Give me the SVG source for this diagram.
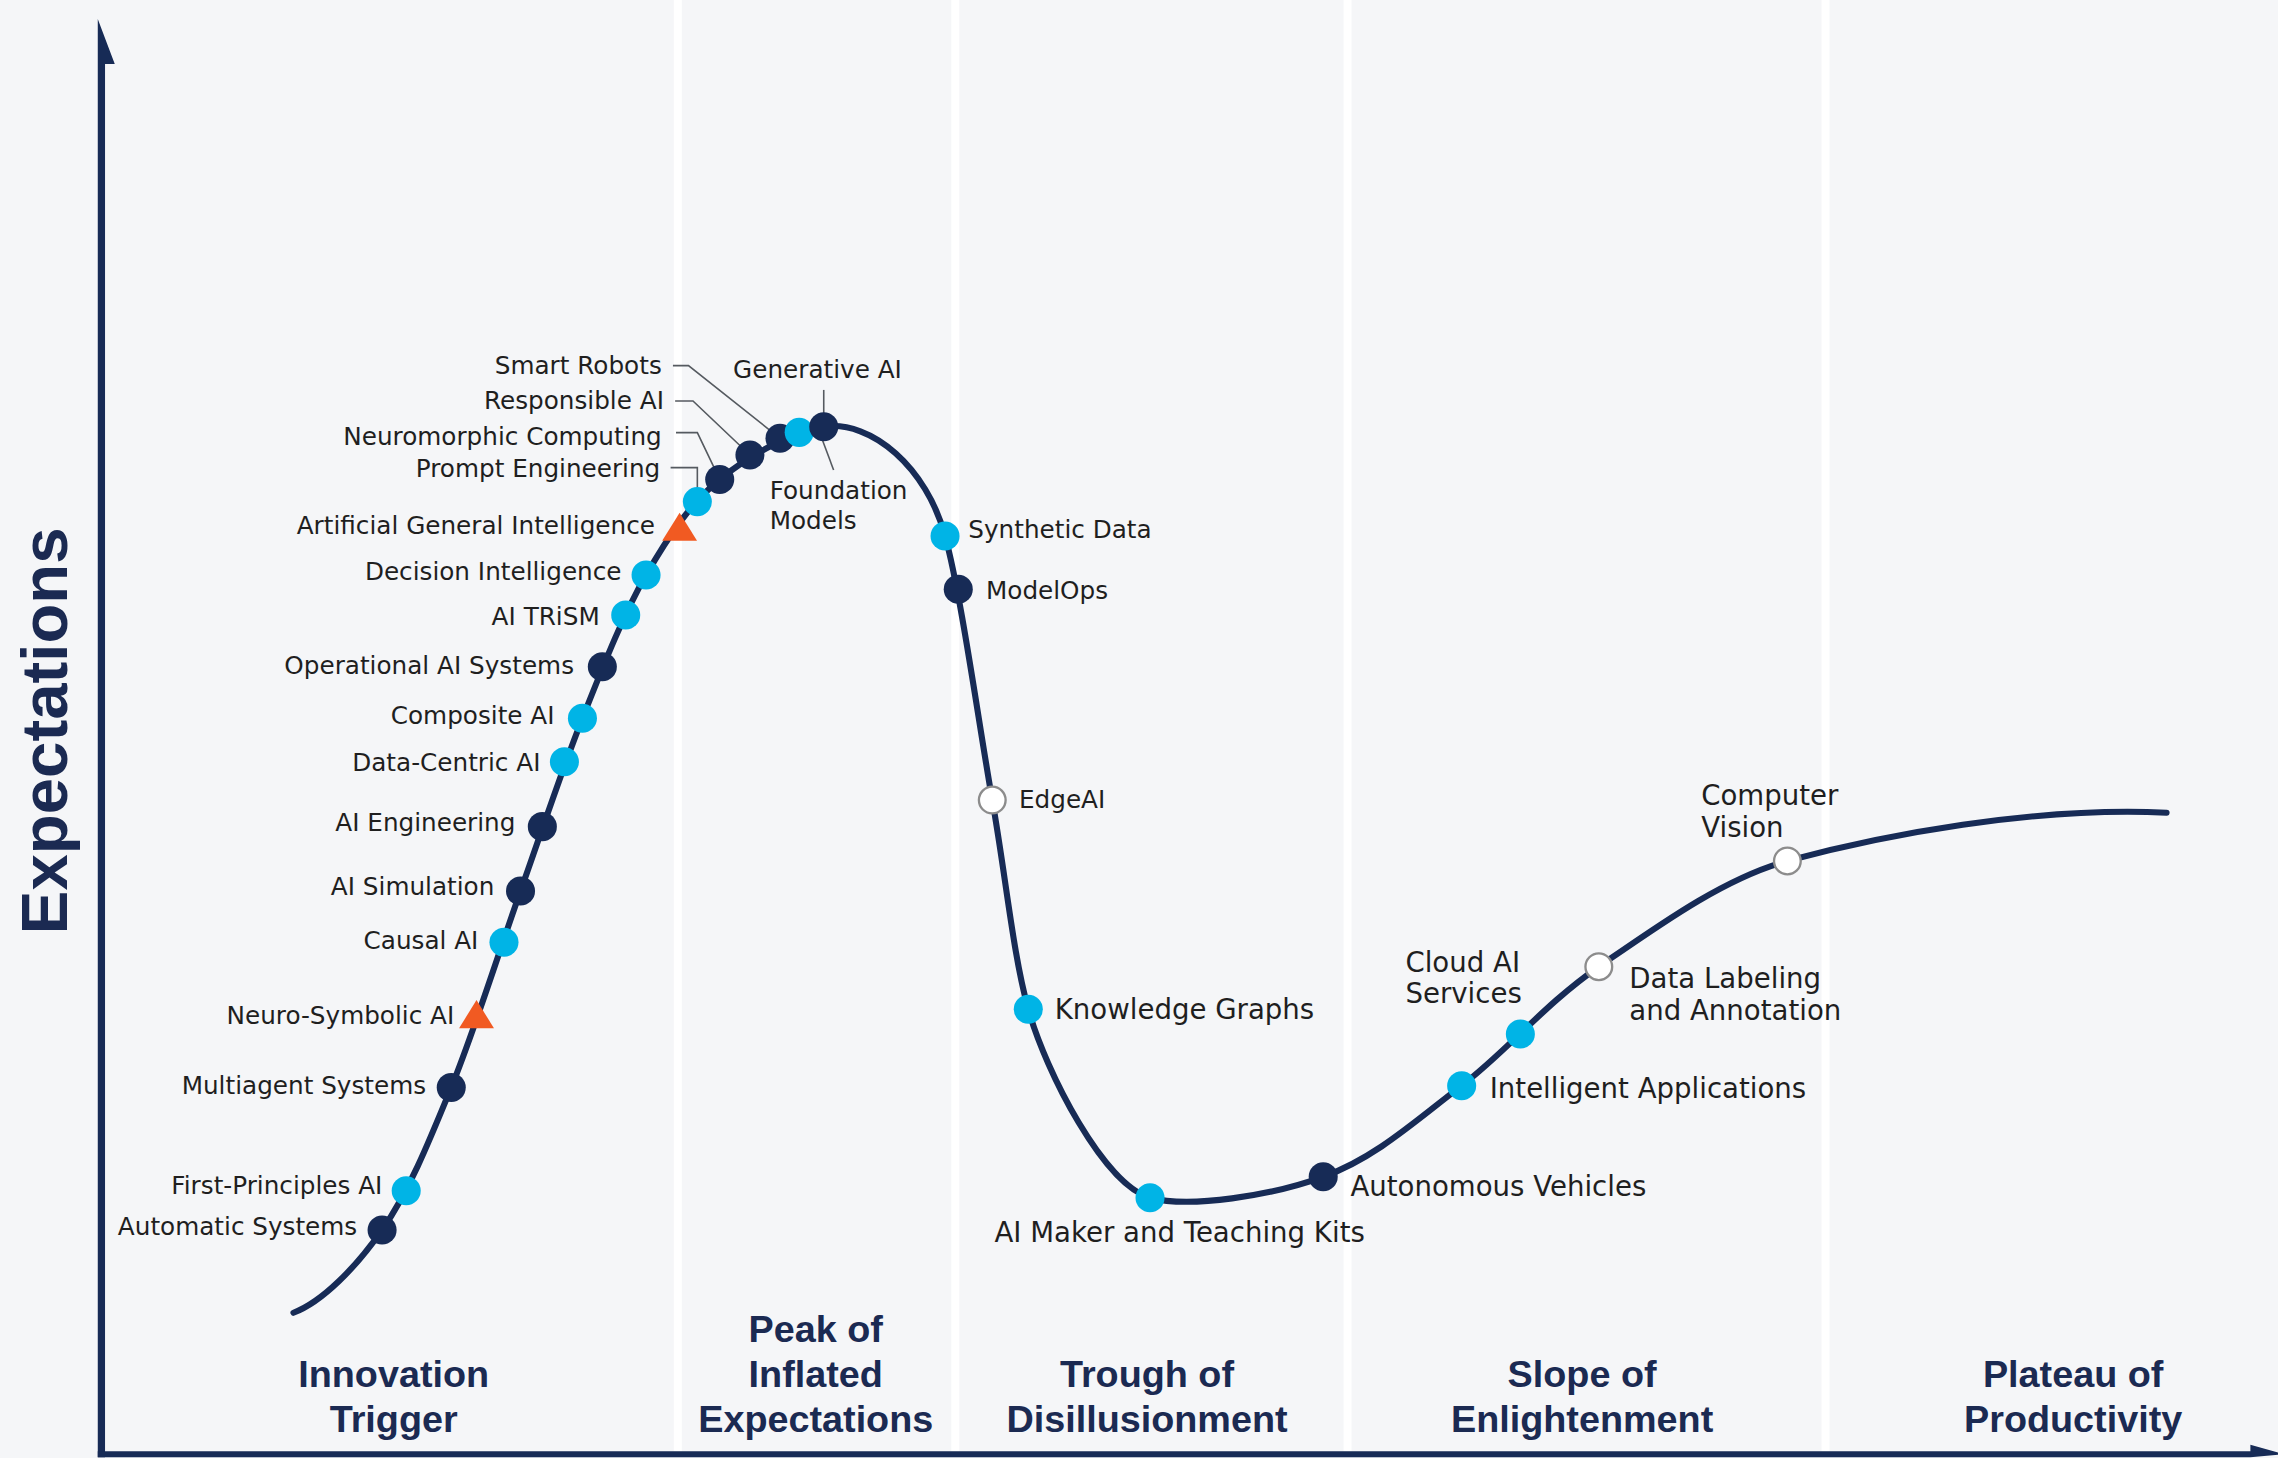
<svg xmlns="http://www.w3.org/2000/svg" width="2278" height="1458" viewBox="0 0 2278 1458">
<defs>
<style>
.bg{fill:#f5f6f8}
.stripe{fill:#ffffff}
.axis{fill:#172b56}
.curve{fill:none;stroke:#172b56;stroke-width:4.2;stroke-linecap:round}
.leader{fill:none;stroke:#555a60;stroke-width:1.1}
.dk{fill:#172b56}
.cy{fill:#00b4e6}
.wh{fill:#ffffff;stroke:#8c8c8c;stroke-width:1.6}
.tri{fill:#f15a22}
.lbl{font-family:"DejaVu Sans","Liberation Sans",sans-serif;font-size:17px;fill:#1f1f1f}
.big{font-size:19px}
.end{text-anchor:end}
.phase{font-family:"Liberation Sans",Arial,sans-serif;font-weight:bold;font-size:26px;fill:#1b2a52;text-anchor:middle}
.ylab{font-family:"Liberation Sans",Arial,sans-serif;font-weight:bold;font-size:45px;fill:#1b2a52;text-anchor:middle}
</style>
</defs>
<rect class="bg" x="0" y="0" width="2278" height="1458"/>
<g transform="scale(1.4528)">
<g id="stripes">
<rect class="stripe" x="463.8" y="0" width="5.5" height="999"/>
<rect class="stripe" x="654.8" y="0" width="5.5" height="999"/>
<rect class="stripe" x="924.8" y="0" width="5.5" height="999"/>
<rect class="stripe" x="1253.8" y="0" width="5.5" height="999"/>
</g>
<g id="axes">
<path class="axis" d="M67.3,1003 L67.3,13 L79,44 L72.3,44 L72.3,1003 Z"/>
<path class="axis" d="M67.3,999 L1549,999 L1549,994.5 L1572,1001 L1549,1003 L67.3,1003 Z"/>
<text class="ylab" transform="translate(46,503) rotate(-90)">Expectations</text>
</g>
<g id="phases">
<text class="phase" x="271" y="955">Innovation</text>
<text class="phase" x="271" y="986">Trigger</text>
<text class="phase" x="561.5" y="924">Peak of</text>
<text class="phase" x="561.5" y="955">Inflated</text>
<text class="phase" x="561.5" y="986">Expectations</text>
<text class="phase" x="789.5" y="955">Trough of</text>
<text class="phase" x="789.5" y="986">Disillusionment</text>
<text class="phase" x="1089" y="955">Slope of</text>
<text class="phase" x="1089" y="986">Enlightenment</text>
<text class="phase" x="1427" y="955">Plateau of</text>
<text class="phase" x="1427" y="986">Productivity</text>
</g>
<g id="curve">
<path class="curve" d="M202,903.6 C222,896 244.9,872.45 263,846.6 C281.1,820.75 294.7,787.4 310.6,748.5 C326.5,709.6 343.25,655.65 358.3,613.3 C373.35,570.95 386.5,530.65 400.9,494.4 C415.3,458.15 428.95,423.2 444.7,395.8 C460.45,368.4 475,347 495.4,330 C515.8,313 546.7,296.9 567,293.7 C600,289 638,322 650.5,369 C661.5,408.95 673.45,496.4 683,550.7 C692.55,605 697.35,657.2 707.8,694.7 C719.9,738 760,815.6 791.6,824.4 C819,832 875.05,822.85 910.8,810 C946.55,797.15 974.5,771.4 1006.1,747.3 C1037.7,723.2 1063.1,691.2 1100.5,665.4 C1143.5,635.7 1187.3,604.3 1230.3,592.6 C1295.4,574.9 1400,555 1491.3,559.4"/>
</g>
<g id="connectors">
<path class="leader" d="M463.2,251.7 H473.9 L536.9,301.7"/>
<path class="leader" d="M464.7,276 H477 L516.2,313.2"/>
<path class="leader" d="M465.3,297.8 H480 L495.4,330"/>
<path class="leader" d="M461.6,321.9 H480 V345.3"/>
<path class="leader" d="M567,268.4 V293.7"/>
<path class="leader" d="M565,300 L573.8,323.5"/>
</g>
<g id="nodes">
<g id="n-automatic-systems"><circle class="dk" cx="263" cy="846.6" r="10"/><text class="lbl end" x="245.9" y="850.2">Automatic Systems</text></g>
<g id="n-first-principles-ai"><circle class="cy" cx="279.6" cy="819.6" r="10"/><text class="lbl end" x="263.2" y="821.7">First-Principles AI</text></g>
<g id="n-multiagent-systems"><circle class="dk" cx="310.6" cy="748.5" r="10"/><text class="lbl end" x="293.3" y="753">Multiagent Systems</text></g>
<g id="n-neuro-symbolic-ai"><polygon class="tri" points="328,688.3 316,707.8 340,707.8"/><text class="lbl end" x="312.7" y="704.7">Neuro-Symbolic AI</text></g>
<g id="n-causal-ai"><circle class="cy" cx="346.9" cy="648.6" r="10"/><text class="lbl end" x="329.3" y="653">Causal AI</text></g>
<g id="n-ai-simulation"><circle class="dk" cx="358.3" cy="613.3" r="10"/><text class="lbl end" x="340.3" y="616.3">AI Simulation</text></g>
<g id="n-ai-engineering"><circle class="dk" cx="373.3" cy="569" r="10"/><text class="lbl end" x="354.8" y="572.3">AI Engineering</text></g>
<g id="n-data-centric-ai"><circle class="cy" cx="388.5" cy="524.3" r="10"/><text class="lbl end" x="372" y="530.7">Data-Centric AI</text></g>
<g id="n-composite-ai"><circle class="cy" cx="400.9" cy="494.4" r="10"/><text class="lbl end" x="381.7" y="498.2">Composite AI</text></g>
<g id="n-operational-ai-systems"><circle class="dk" cx="414.6" cy="458.9" r="10"/><text class="lbl end" x="395.1" y="463.7">Operational AI Systems</text></g>
<g id="n-ai-trism"><circle class="cy" cx="430.7" cy="423.3" r="10"/><text class="lbl end" x="412.8" y="430.5">AI TRiSM</text></g>
<g id="n-decision-intelligence"><circle class="cy" cx="444.7" cy="395.8" r="10"/><text class="lbl end" x="427.8" y="399.5">Decision Intelligence</text></g>
<g id="n-agi"><polygon class="tri" points="467.8,353 455.8,372.2 479.8,372.2"/><text class="lbl end" x="450.8" y="367.4">Artificial General Intelligence</text></g>
<g id="n-prompt-engineering"><circle class="cy" cx="480" cy="345.3" r="10"/><text class="lbl end" x="454.5" y="328.1">Prompt Engineering</text></g>
<g id="n-neuromorphic-computing"><circle class="dk" cx="495.4" cy="330" r="10"/><text class="lbl end" x="455.5" y="306.3">Neuromorphic Computing</text></g>
<g id="n-responsible-ai"><circle class="dk" cx="516.2" cy="313.2" r="10"/><text class="lbl end" x="457" y="281.7">Responsible AI</text></g>
<g id="n-smart-robots"><circle class="dk" cx="536.9" cy="301.7" r="10"/><text class="lbl end" x="455.5" y="257.4">Smart Robots</text></g>
<g id="n-foundation-models"><circle class="cy" cx="550.1" cy="297.6" r="10"/><text class="lbl" x="529.8" y="343.7">Foundation</text><text class="lbl" x="529.8" y="364.1">Models</text></g>
<g id="n-generative-ai"><circle class="dk" cx="567" cy="293.7" r="10"/><text class="lbl" x="504.6" y="260.4">Generative AI</text></g>
<g id="n-synthetic-data"><circle class="cy" cx="650.5" cy="369" r="10"/><text class="lbl" x="666.5" y="370.6">Synthetic Data</text></g>
<g id="n-modelops"><circle class="dk" cx="659.6" cy="405.6" r="10"/><text class="lbl" x="678.7" y="412">ModelOps</text></g>
<g id="n-edgeai"><circle class="wh" cx="683" cy="550.7" r="9.2"/><text class="lbl" x="701.4" y="556.2">EdgeAI</text></g>
<g id="n-knowledge-graphs"><circle class="cy" cx="707.8" cy="694.7" r="10"/><text class="lbl big" x="726" y="701.5">Knowledge Graphs</text></g>
<g id="n-ai-maker"><circle class="cy" cx="791.6" cy="824.4" r="10"/><text class="lbl big" x="684.5" y="854.7">AI Maker and Teaching Kits</text></g>
<g id="n-autonomous-vehicles"><circle class="dk" cx="910.8" cy="810" r="10"/><text class="lbl big" x="929.5" y="823.5">Autonomous Vehicles</text></g>
<g id="n-intelligent-applications"><circle class="cy" cx="1006.1" cy="747.3" r="10"/><text class="lbl big" x="1025.4" y="755.8">Intelligent Applications</text></g>
<g id="n-cloud-ai-services"><circle class="cy" cx="1046.5" cy="711.7" r="10"/><text class="lbl big" x="967.4" y="668.8">Cloud AI</text><text class="lbl big" x="967.4" y="690.5">Services</text></g>
<g id="n-data-labeling"><circle class="wh" cx="1100.5" cy="665.4" r="9.2"/><text class="lbl big" x="1121.5" y="680.2">Data Labeling</text><text class="lbl big" x="1121.5" y="702">and Annotation</text></g>
<g id="n-computer-vision"><circle class="wh" cx="1230.3" cy="592.6" r="9.2"/><text class="lbl big" x="1171" y="554">Computer</text><text class="lbl big" x="1171" y="575.8">Vision</text></g>
</g>
</g>
</svg>
